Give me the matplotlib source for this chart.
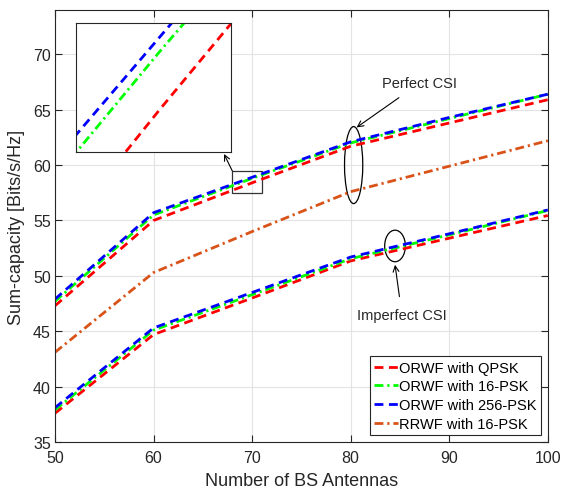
import matplotlib
matplotlib.use('Agg')
import matplotlib.pyplot as plt
from matplotlib.patches import Ellipse, Rectangle
import numpy as np

plt.rcParams['font.family'] = ['Liberation Sans', 'DejaVu Sans']

antennas = [50, 60, 70, 80, 90, 100]

# perfect CSI
qpsk_p = [47.3, 55.0, 58.4, 61.7, 63.8, 65.9]
psk16_p = [47.7, 55.5, 58.8, 62.0, 64.2, 66.4]
psk256_p = [47.9, 55.7, 58.9, 62.1, 64.3, 66.4]
rrwf16 = [43.1, 50.3, 54.0, 57.6, 59.9, 62.2]

# imperfect CSI
qpsk_i = [37.6, 44.7, 48.0, 51.35, 53.4, 55.45]
psk16_i = [37.9, 45.1, 48.3, 51.55, 53.7, 55.9]
psk256_i = [38.1, 45.3, 48.5, 51.7, 53.8, 55.95]

labels = ['ORWF with QPSK', 'ORWF with 16-PSK', 'ORWF with 256-PSK', 'RRWF with 16-PSK']
orange = (0.85, 0.325, 0.098)
dash = (3.2, 2.0)
dashdot = (3.2, 1.4, 0.8, 1.4)


def draw(ax, lw=2.0):
    h1, = ax.plot(antennas, qpsk_p, color='r', lw=lw, dashes=dash)
    h2, = ax.plot(antennas, psk16_p, color='#00ff00', lw=lw, dashes=dashdot)
    h3, = ax.plot(antennas, psk256_p, color='b', lw=lw, dashes=dash)
    h4, = ax.plot(antennas, rrwf16, color=orange, lw=lw, dashes=dashdot)
    ax.plot(antennas, qpsk_i, color='r', lw=lw, dashes=dash)
    ax.plot(antennas, psk16_i, color='#00ff00', lw=lw, dashes=dashdot)
    ax.plot(antennas, psk256_i, color='b', lw=lw, dashes=dash)
    return [h1, h2, h3, h4]


fig = plt.figure(figsize=(5.63, 4.89), dpi=100)
ax = fig.add_axes([0.0977, 0.094, 0.8753, 0.8835])
handles = draw(ax)
ax.set_xlim(50, 100)
ax.set_ylim(35, 74)
ax.set_xticks(np.arange(50, 101, 10))
ax.set_yticks(np.arange(35, 71, 5))
ax.grid(True, color='#e3e3e3', lw=0.8)
ax.set_axisbelow(True)
ax.tick_params(direction='in', top=True, right=True, length=5, labelsize=11.5,
               color='#262626', labelcolor='#262626')
ax.tick_params(axis='x', pad=6)
ax.tick_params(axis='y', pad=3)
for s in ax.spines.values():
    s.set_color('#262626')
    s.set_linewidth(0.8)
ax.set_xlabel('Number of BS Antennas', fontsize=13, color='#262626', labelpad=5)
ax.set_ylabel('Sum-capacity [Bits/s/Hz]', fontsize=13, color='#262626', labelpad=6)

leg = ax.legend(handles, labels, loc='lower right', fontsize=10.5, handlelength=1.6,
                handletextpad=0.1, borderpad=0.3, labelspacing=0.32,
                fancybox=False, framealpha=1, edgecolor='#262626',
                bbox_to_anchor=(0.986, 0.016), borderaxespad=0)
leg.get_frame().set_linewidth(0.8)

# ellipses and labels
ax.add_patch(Ellipse((80.3, 60.0), 1.85, 6.95, fill=False, lw=0.9, color='k'))
ax.add_patch(Ellipse((84.5, 52.7), 2.1, 2.85, fill=False, lw=0.9, color='k'))
ax.annotate('Perfect CSI', xy=(80.6, 63.4), xytext=(87.0, 67.4), fontsize=10.5,
            ha='center', va='center', color='#262626',
            arrowprops=dict(arrowstyle='->', lw=0.8, color='k', shrinkA=6, shrinkB=0))
ax.annotate('Imperfect CSI', xy=(84.5, 51.0), xytext=(85.2, 46.5), fontsize=10.5,
            ha='center', va='center', color='#262626',
            arrowprops=dict(arrowstyle='->', lw=0.8, color='k', shrinkA=6, shrinkB=0))

# zoom box
ax.add_patch(Rectangle((68.0, 57.45), 3.0, 2.0, fill=False, lw=0.9, color='#333333'))
ax.annotate('', xy=(67.15, 61.0), xytext=(68.0, 59.45),
            arrowprops=dict(arrowstyle='->', lw=0.8, color='k', shrinkA=0, shrinkB=0))

ins = fig.add_axes([0.135, 0.687, 0.275, 0.264])
draw(ins, lw=2.0)
ins.set_xlim(67.9, 71.8)
ins.set_ylim(58.11, 59.0)
ins.set_xticks([])
ins.set_yticks([])
for s in ins.spines.values():
    s.set_color('#262626')
    s.set_linewidth(0.8)

fig.savefig('out.png', dpi=100)
